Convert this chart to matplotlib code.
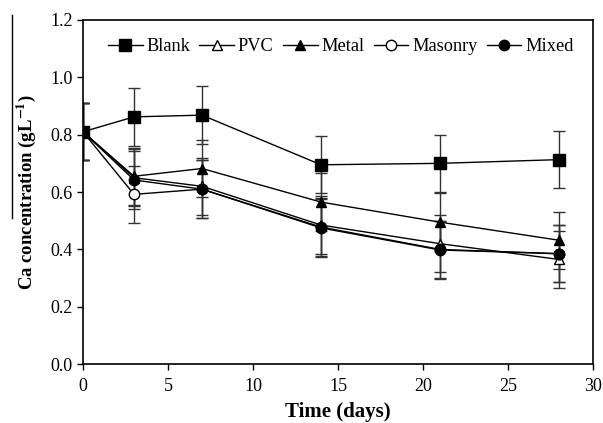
import matplotlib
matplotlib.use("Agg")
import matplotlib.pyplot as plt
from matplotlib.lines import Line2D

days = [0, 3, 7, 14, 21, 28]
blank = [0.81, 0.862, 0.868, 0.695, 0.700, 0.713]
pvc = [0.81, 0.650, 0.620, 0.485, 0.420, 0.365]
metal = [0.81, 0.655, 0.682, 0.565, 0.495, 0.432]
masonry = [0.81, 0.592, 0.610, 0.478, 0.400, 0.385]
mixed = [0.81, 0.642, 0.610, 0.475, 0.398, 0.385]

blank_err = [0.10, 0.10, 0.10, 0.10, 0.10, 0.10]
pvc_err = [0.10, 0.10, 0.10, 0.10, 0.10, 0.10]
metal_err = [0.10, 0.10, 0.10, 0.10, 0.10, 0.10]
masonry_err = [0.10, 0.10, 0.10, 0.10, 0.10, 0.10]
mixed_err = [0.10, 0.10, 0.10, 0.10, 0.10, 0.10]

labels = ["Blank", "PVC", "Metal", "Masonry", "Mixed"]

plt.rcParams['font.family'] = ['Liberation Serif', 'DejaVu Serif']
plt.rcParams['mathtext.fontset'] = 'stix'

fig = plt.figure(figsize=(6.03, 4.23), dpi=100)
ax = fig.add_axes([0.1376, 0.139, 0.846, 0.814])

series = [
    (blank, blank_err, 's', 'black', 'black', 8),
    (pvc, pvc_err, '^', 'white', 'black', 7),
    (metal, metal_err, '^', 'black', 'black', 7),
    (masonry, masonry_err, 'o', 'white', 'black', 7.5),
    (mixed, mixed_err, 'o', 'black', 'black', 7.5),
]

handles = []
for (vals, err, m, fc, ec, ms), lab in zip(series, labels):
    ax.errorbar(days, vals, yerr=err, fmt='none', ecolor='#333333',
                elinewidth=1.0, capsize=4, capthick=1.0, zorder=2)
    h, = ax.plot(days, vals, color='black', lw=1.0, marker=m, ms=ms,
                 mfc=fc, mec=ec, mew=1.0, label=lab, zorder=3)
    handles.append(h)

ax.set_xlim(0, 30)
ax.set_ylim(0, 1.2)
ax.set_xticks([0, 5, 10, 15, 20, 25, 30])
ax.set_yticks([0.0, 0.2, 0.4, 0.6, 0.8, 1.0, 1.2])
ax.set_yticklabels([f"{v:.1f}" for v in [0.0, 0.2, 0.4, 0.6, 0.8, 1.0, 1.2]])
ax.tick_params(direction='out', length=4, width=1.0, labelsize=13,
               top=False, right=False)
ax.tick_params(axis='x', pad=6)
for s in ax.spines.values():
    s.set_linewidth(1.2)

ax.set_xlabel("Time (days)", fontsize=15, fontweight='bold', labelpad=5)
ax.set_ylabel(r"Ca concentration (gL$^{\mathbf{-1}}$)", fontsize=13.5,
              fontweight='bold', labelpad=9)

ax.legend(handles=handles, loc='upper center', ncol=5, frameon=False,
          fontsize=13.2, handlelength=1.9, handletextpad=0.2,
          columnspacing=0.5, bbox_to_anchor=(0.505, 0.995))

fig.add_artist(Line2D([0.02, 0.02], [0.965, 0.485], transform=fig.transFigure,
                      color='black', lw=1.0))

fig.savefig("out.png", dpi=100)
